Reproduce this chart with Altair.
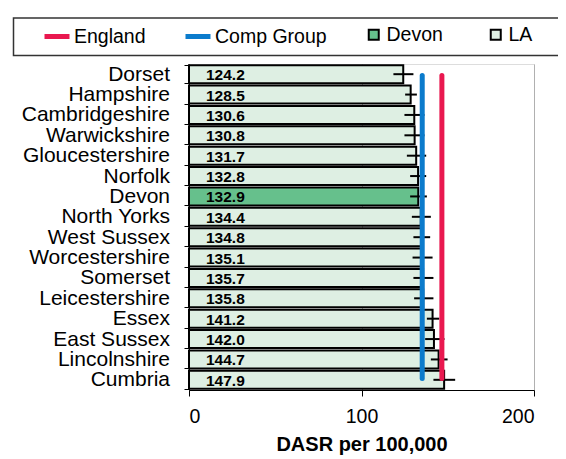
import altair as alt
import pandas as pd

counties = ["Dorset", "Hampshire", "Cambridgeshire", "Warwickshire", "Gloucestershire",
            "Norfolk", "Devon", "North Yorks", "West Sussex", "Worcestershire",
            "Somerset", "Leicestershire", "Essex", "East Sussex", "Lincolnshire", "Cumbria"]
values = [124.2, 128.5, 130.6, 130.8, 131.7, 132.8, 132.9, 134.4, 134.8, 135.1,
          135.7, 135.8, 141.2, 142.0, 144.7, 147.9]
ci_low = [118.5, 125.3, 124.9, 124.9, 126.3, 128.2, 128.2, 129.2, 130.1, 129.6,
          130.1, 130.5, 137.9, 136.9, 140.2, 141.7]
ci_high = [130.1, 132.1, 136.5, 136.5, 137.5, 137.5, 137.9, 140.2, 139.8, 141.2,
           141.7, 141.7, 145.1, 148.1, 149.9, 154.3]
groups = ["Devon" if c == "Devon" else "LA" for c in counties]

ref_names = ["England", "Comp Group"]
ref_values = [146.6, 135.2]

FONT = "Liberation Sans"
W, H = 345, 326

df = pd.DataFrame({"county": counties, "value": values, "lo": ci_low,
                   "hi": ci_high, "group": groups})
ref = pd.DataFrame({"name": ref_names, "value": ref_values})

yenc = alt.Y("county:N", sort=counties, title=None,
             scale=alt.Scale(paddingInner=0.12, paddingOuter=0.06),
             axis=alt.Axis(labelFontSize=21, labelFont=FONT, labelColor="black",
                           labelPadding=14.5, tickSize=5, tickColor="black",
                           domainColor="black", tickBand="extent", grid=False))
xscale = alt.Scale(domain=[0, 200], nice=False)
xaxis = alt.Axis(values=[0, 100, 200], labelFontSize=19.5, labelFont=FONT,
                 labelColor="black", tickSize=6, tickColor="black",
                 domainColor="black", labelPadding=11.5, grid=True,
                 gridColor="#b0b0b0", gridWidth=1,
                 title="DASR per 100,000", titleFont=FONT, titleFontSize=20,
                 titleFontWeight="bold", titleColor="black", titlePadding=8)

base = alt.Chart(df)

bars = base.mark_bar(stroke="black", strokeWidth=2).encode(
    x=alt.X("value:Q", scale=xscale, axis=xaxis),
    y=yenc,
    fill=alt.Fill("group:N",
                  scale=alt.Scale(domain=["Devon", "LA"], range=["#66c08c", "#deefe3"]),
                  legend=alt.Legend(orient="none", legendX=175, legendY=-39.5,
                                    direction="horizontal", title=None,
                                    symbolType="square", symbolSize=100,
                                    symbolStrokeColor="black", symbolStrokeWidth=2,
                                    symbolOpacity=1, labelFont=FONT, labelFontSize=19.5,
                                    labelColor="black", labelOffset=3,
                                    columnPadding=43, padding=0)),
)

errs = base.mark_rule(color="black", strokeWidth=2).encode(
    x="lo:Q", x2="hi:Q", y=alt.Y("county:N", sort=counties)
)

labels = base.mark_text(align="left", baseline="alphabetic", dx=17, dy=6,
                        font=FONT, fontSize=15.5, fontWeight="bold",
                        color="black").encode(
    x=alt.datum(0), y=alt.Y("county:N", sort=counties),
    text=alt.Text("value:Q", format=".1f"),
)

lines = alt.Chart(ref).mark_rule(strokeWidth=5, strokeCap="round").encode(
    x=alt.X("value:Q"),
    y=alt.value(11.5), y2=alt.value(314.5),
    stroke=alt.Stroke("name:N",
                      scale=alt.Scale(domain=ref_names, range=["#e9184f", "#0b7bcc"]),
                      legend=alt.Legend(orient="none", legendX=-147, legendY=-42.5,
                                        direction="horizontal", title=None,
                                        symbolType="stroke", symbolSize=625,
                                        symbolStrokeWidth=5, labelFont=FONT,
                                        labelFontSize=19.5, labelColor="black",
                                        labelOffset=2, columnPadding=29, padding=0)),
)

legend_box = alt.Chart(pd.DataFrame({"k": [0]})).mark_rect(
    fill="white", fillOpacity=0, stroke="#333333", strokeWidth=1.5
).encode(x=alt.value(-175.5), x2=alt.value(380), y=alt.value(-46), y2=alt.value(-8.5))

chart = alt.layer(legend_box, bars, errs, labels, lines).resolve_scale(
    fill="independent", stroke="independent"
).properties(
    width=W, height=H,
    autosize=alt.AutoSizeParams(type="none"),
    padding={"left": 181, "top": 56, "right": 24, "bottom": 68},
).configure_view(stroke="#8c8c8c", strokeWidth=2).configure(font=FONT)

chart.save("out.html", embed_options={"renderer": "svg", "actions": False})
